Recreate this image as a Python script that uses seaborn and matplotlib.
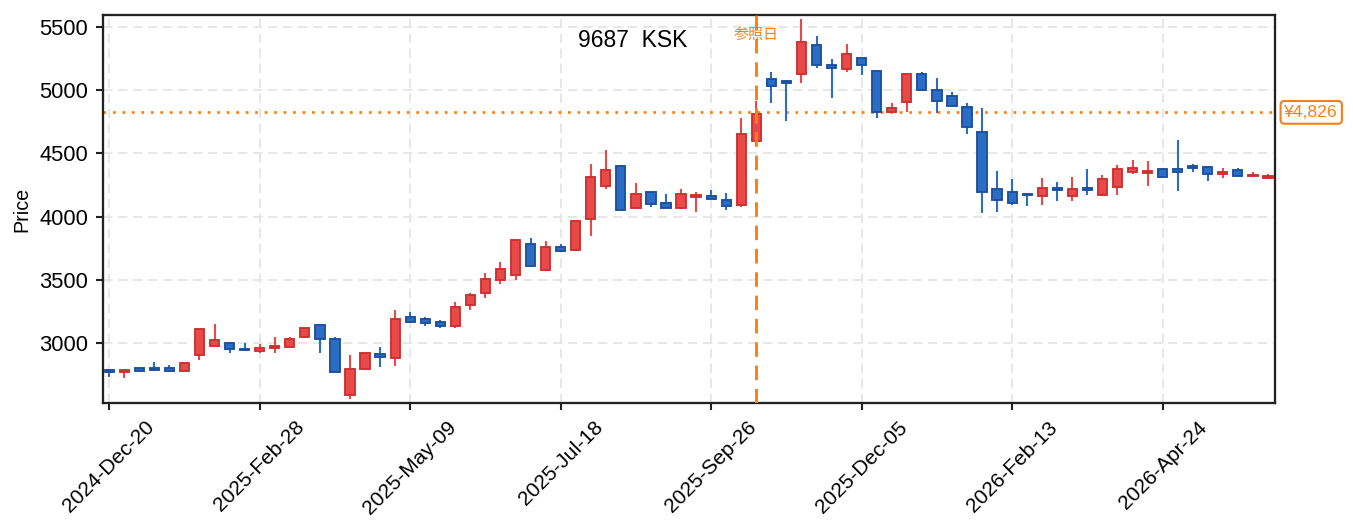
import matplotlib
matplotlib.use("Agg")
import matplotlib.pyplot as plt
import matplotlib.dates as mdates
import seaborn as sns
import pandas as pd
import numpy as np

# weekly candles
start = "2024-12-20"
opens = [2780, 2764, 2797, 2797, 2797, 2775, 2902, 2973, 2999, 2952,
         2933, 2955, 2965, 3044, 3137, 3031, 2584, 2791, 2907, 2875,
         3201, 3185, 3161, 3130, 3296, 3391, 3494, 3534, 3779, 3573,
         3756, 3732, 3978, 4242, 4403, 4065, 4196, 4104, 4065, 4158,
         4165, 4133, 4091, 4600, 5092, 5072, 5130, 5362, 5201, 5169,
         5254, 5156, 4830, 4908, 5127, 5005, 4958, 4870, 4672, 4220,
         4196, 4178, 4165, 4228, 4162, 4226, 4168, 4234, 4355, 4342,
         4379, 4379, 4400, 4395, 4337, 4369, 4321, 4305]
highs = [2788, 2790, 2800, 2846, 2822, 2846, 3110, 3147, 3002, 2994,
         2987, 3044, 3042, 3120, 3147, 3042, 2902, 2918, 2965, 3258,
         3240, 3203, 3179, 3322, 3393, 3552, 3639, 3815, 3829, 3806,
         3782, 3965, 4416, 4527, 4405, 4265, 4198, 4178, 4218, 4196,
         4210, 4189, 4783, 4916, 5146, 5080, 5566, 5431, 5246, 5370,
         5256, 5158, 4900, 5130, 5146, 5098, 4987, 4900, 4858, 4358,
         4295, 4184, 4303, 4273, 4313, 4376, 4329, 4408, 4448, 4440,
         4381, 4606, 4416, 4397, 4382, 4382, 4353, 4337]
lows = [2730, 2722, 2770, 2777, 2770, 2775, 2864, 2970, 2915, 2936,
        2920, 2920, 2963, 3042, 2915, 2765, 2555, 2790, 2809, 2817,
        3159, 3134, 3118, 3118, 3258, 3354, 3467, 3496, 3603, 3571,
        3725, 3730, 3845, 4220, 4050, 4063, 4073, 4065, 4063, 4033,
        4138, 4054, 4073, 4560, 4902, 4759, 5061, 5180, 4942, 5143,
        5124, 4783, 4826, 4828, 4998, 4823, 4874, 4656, 4030, 4038,
        4091, 4085, 4091, 4125, 4125, 4173, 4166, 4173, 4337, 4242,
        4311, 4202, 4355, 4284, 4303, 4321, 4319, 4303]
closes = [2764, 2780, 2773, 2785, 2773, 2836, 3105, 3023, 2949, 2945,
          2959, 2971, 3031, 3118, 3029, 2767, 2793, 2915, 2884, 3185,
          3161, 3153, 3130, 3280, 3375, 3502, 3581, 3811, 3605, 3756,
          3727, 3962, 4311, 4371, 4051, 4176, 4099, 4067, 4176, 4170,
          4140, 4083, 4656, 4815, 5035, 5060, 5381, 5201, 5175, 5291,
          5201, 4828, 4862, 5127, 5000, 4916, 4876, 4709, 4192, 4128,
          4104, 4168, 4228, 4208, 4220, 4212, 4300, 4379, 4382, 4358,
          4313, 4353, 4387, 4337, 4355, 4323, 4331, 4323]

ticker = "9687  KSK"
ref_date = "2025-10-17"
ref_label = "参照日"
ref_price = 4826

df = pd.DataFrame({"date": pd.date_range(start, periods=len(opens), freq="7D"),
                   "open": opens, "high": highs, "low": lows, "close": closes})
df["up"] = df["close"] >= df["open"]

sns.set_theme(style="ticks", rc={"text.color": "black", "xtick.color": "black",
                                 "ytick.color": "black", "axes.labelcolor": "black"})
plt.rcParams["font.family"] = ["Liberation Sans", "Noto Sans CJK JP", "DejaVu Sans"]

fig = plt.figure(figsize=(1353 / 150, 531 / 150), dpi=150)
ax = fig.add_axes([0.0761, 0.241, 0.8663, 0.7307])

red_face, red_edge = "#e84a4a", "#cc3030"
blue_face, blue_edge = "#2b6cc4", "#1c4f9e"

x = mdates.date2num(df["date"])
face = np.where(df["up"], red_face, blue_face)
edge = np.where(df["up"], red_edge, blue_edge)

# wicks
ax.vlines(x, df["low"], df["high"], colors=face, linewidth=1.0, zorder=2)
# bodies
bottom = np.minimum(df["open"], df["close"])
height = np.maximum(np.abs(df["close"] - df["open"]), 4)
ax.bar(x, height, bottom=bottom, width=4.3, color=face, edgecolor=edge,
       linewidth=0.9, zorder=3)

# reference markers
ax.axvline(pd.Timestamp(ref_date), color="#ff7f0e", linestyle=(0, (5, 3)),
           linewidth=1.4, zorder=4)
ax.axhline(ref_price, color="#ff7f0e", linestyle=(0, (1, 2.5)),
           linewidth=1.3, zorder=1)
ax.text(pd.Timestamp(ref_date), 5440, ref_label, color="#ff7f0e",
        fontsize=7.2, ha="center", va="center", zorder=5,
        family=["Noto Sans CJK JP", "DejaVu Sans"])
ax.annotate(f"¥{ref_price:,}", xy=(1, ref_price),
            xycoords=("axes fraction", "data"), xytext=(4.5, 0),
            textcoords="offset points", ha="left", va="center",
            fontsize=8.4, color="#ff7f0e",
            bbox=dict(boxstyle="round,pad=0.22", fc="white", ec="#ff7f0e", lw=1))

ax.text(0.452, 0.935, ticker, transform=ax.transAxes, ha="center",
        va="center", fontsize=11, color="black")

ax.set_xlim(x[0] - 2.9, x[-1] + 3.3)
ax.set_ylim(2521, 5598)
ax.set_yticks([3000, 3500, 4000, 4500, 5000, 5500])
ax.set_xticks(x[::10])
ax.xaxis.set_major_formatter(mdates.DateFormatter("%Y-%b-%d"))
plt.setp(ax.get_xticklabels(), rotation=45, fontsize=10)
plt.setp(ax.get_yticklabels(), fontsize=10.5)
ax.set_ylabel("Price", fontsize=9.5)
ax.set_xlabel("")

ax.grid(True, linestyle=(0, (5, 3)), color="#e6e6e6", linewidth=0.9, zorder=0)
ax.set_axisbelow(True)
for s in ax.spines.values():
    s.set_color("#222222")
    s.set_linewidth(1.1)
ax.tick_params(length=3.5, width=1.0, color="#222222")

fig.savefig("out.png", dpi=150)
